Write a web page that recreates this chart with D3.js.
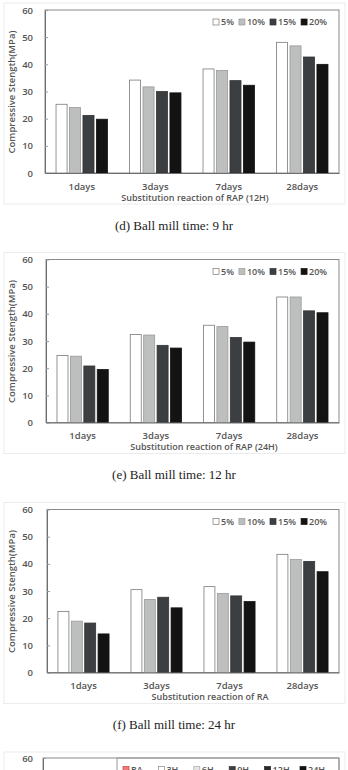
<!DOCTYPE html>
<html>
<head>
<meta charset="utf-8">
<script src="https://cdn.jsdelivr.net/npm/d3@7"></script>
<style>
  body { margin: 0; background: #fff; }
  svg { display: block; }
</style>
</head>
<body>
<svg id="chart"></svg>
<script>
// categories and series
var days = ["1days", "3days", "7days", "28days"];
var ratios = ["5%", "10%", "15%", "20%"];
var yTicks = [0, 10, 20, 30, 40, 50, 60];

// one row per day, columns = 5%, 10%, 15%, 20%
var rap12H = [
  [25.3, 24.1, 21.2, 19.8],
  [34.2, 31.7, 30.0, 29.5],
  [38.3, 37.7, 34.0, 32.3],
  [48.1, 46.8, 42.7, 40.0]
];
var rap24H = [
  [24.7, 24.4, 20.8, 19.5],
  [32.4, 32.2, 28.4, 27.4],
  [35.8, 35.3, 31.3, 29.6],
  [46.2, 46.2, 41.1, 40.4]
];
var raOnly = [
  [22.5, 18.9, 18.2, 14.2],
  [30.5, 26.9, 27.7, 23.8],
  [31.6, 29.1, 28.2, 26.1],
  [43.5, 41.6, 40.9, 37.1]
];

var xTitles = ["Substitution reaction of RAP (12H)", "Substitution reaction of RAP (24H)", "Substitution reaction of RA"];
var captions = ["(d) Ball mill time: 9 hr", "(e) Ball mill time: 12 hr", "(f) Ball mill time: 24 hr"];
var yTitle = "Compressive Stength(MPa)";

// legend of the next (cut off) figure
var millTimes = ["RA", "3H", "6H", "9H", "12H", "24H"];

var screen = { width: 348, height: 770 };

var barColors = ["#ffffff", "#bcbfbe", "#3c3f41", "#131313"];
var barStrokes = ["#7a7a7a", "#9a9a9a", "#333333", "#111111"];
var millColors = ["#f07a7a", "#ffffff", "#e4e4e4", "#3c3f41", "#2a2a2a", "#111111"];
var millStrokes = ["#d04040", "#888888", "#aaaaaa", "#333333", "#222222", "#111111"];

var textGray = "#555555";
var sans = "'Open Sans', 'Noto Sans', sans-serif";

var svg = d3.select("#chart")
  .attr("width", screen.width)
  .attr("height", screen.height);

var drawPanel = function(values, xTitle, caption, layout)
{
  var top = layout.top;
  var left = layout.left;
  var right = 339;
  var bottom = top + 163;

  var g = svg.append("g");

  // faint picture frame
  g.append("rect")
    .attr("x", 4).attr("y", top - 7)
    .attr("width", 341).attr("height", 201)
    .attr("fill", "none")
    .attr("stroke", "#ececec");

  var yScale = d3.scaleLinear().domain([0, 60]).range([bottom, top]);

  var x0 = d3.scaleBand()
    .domain(days)
    .range([left, right])
    .paddingInner(0.3)
    .paddingOuter(0.15);

  var x1 = d3.scaleBand()
    .domain(ratios)
    .range([0, x0.bandwidth()])
    .paddingInner(0.18);

  // plot box
  g.append("rect")
    .attr("x", left).attr("y", top)
    .attr("width", right - left).attr("height", bottom - top)
    .attr("fill", "none")
    .attr("stroke", "#8a8a8a")
    .attr("stroke-width", 1);

  // bars
  var groups = g.selectAll("g.day")
    .data(values)
    .enter()
    .append("g")
    .attr("class", "day")
    .attr("transform", function(d, i) { return "translate(" + x0(days[i]) + ",0)"; });

  groups.selectAll("rect")
    .data(function(d) { return d; })
    .enter()
    .append("rect")
    .attr("x", function(d, j) { return x1(ratios[j]); })
    .attr("y", function(d) { return yScale(d); })
    .attr("width", x1.bandwidth())
    .attr("height", function(d) { return bottom - yScale(d); })
    .attr("fill", function(d, j) { return barColors[j]; })
    .attr("stroke", function(d, j) { return barStrokes[j]; })
    .attr("stroke-width", 0.8);

  // y axis
  var yAxis = d3.axisLeft(yScale)
    .tickValues(yTicks)
    .tickSizeInner(-3)
    .tickSizeOuter(0)
    .tickPadding(left - 33);

  var yAxisGraphic = g.append("g")
    .attr("transform", "translate(" + left + ",0)")
    .call(yAxis);
  yAxisGraphic.select(".domain").attr("stroke", "#6e6e6e");
  yAxisGraphic.selectAll(".tick line").attr("stroke", "#9a9a9a");
  yAxisGraphic.selectAll("text")
    .attr("fill", textGray)
    .style("font-family", sans)
    .style("font-size", "9.5px")
    .style("font-weight", 600);

  // x axis
  var xAxis = d3.axisBottom(x0)
    .tickSize(0)
    .tickPadding(10);

  var xAxisGraphic = g.append("g")
    .attr("transform", "translate(0," + bottom + ")")
    .call(xAxis);
  xAxisGraphic.select(".domain").attr("stroke", "#6e6e6e");
  xAxisGraphic.selectAll("text")
    .attr("fill", textGray)
    .style("font-family", sans)
    .style("font-size", "9.5px")
    .style("font-weight", 600);

  // x title
  g.append("text")
    .attr("x", layout.titleX)
    .attr("y", top + 187.5)
    .attr("dy", "0.35em")
    .attr("text-anchor", "middle")
    .attr("fill", textGray)
    .style("font-family", sans)
    .style("font-size", "9px")
    .style("font-weight", 600)
    .text(xTitle);

  // y title
  g.append("text")
    .attr("transform", "translate(12," + (top + 82) + ") rotate(-90)")
    .attr("dy", "0.35em")
    .attr("text-anchor", "middle")
    .attr("fill", textGray)
    .style("font-family", sans)
    .style("font-size", "9.5px")
    .style("font-weight", 600)
    .text(yTitle);

  // legend
  var lx = 213;
  var ly = top + 12;
  ratios.forEach(function(r, j)
  {
    g.append("rect")
      .attr("x", lx).attr("y", ly - 3)
      .attr("width", 6).attr("height", 6)
      .attr("fill", barColors[j])
      .attr("stroke", barStrokes[j])
      .attr("stroke-width", 0.7);
    var t = g.append("text")
      .attr("x", lx + 8)
      .attr("y", ly)
      .attr("dy", "0.35em")
      .attr("fill", textGray)
      .style("font-family", sans)
      .style("font-size", "9px")
      .style("font-weight", 600)
      .text(r);
    lx = lx + 8 + t.node().getComputedTextLength() + 5;
  });

  // caption
  g.append("text")
    .attr("x", 174)
    .attr("y", top + 215)
    .attr("dy", "0.35em")
    .attr("text-anchor", "middle")
    .attr("fill", "#222")
    .style("font-family", "'Liberation Serif', 'DejaVu Serif', serif")
    .style("font-size", "13px")
    .text(caption);
};

drawPanel(rap12H, xTitles[0], captions[0], { top: 10, left: 45, titleX: 195 });
drawPanel(rap24H, xTitles[1], captions[1], { top: 259.5, left: 46, titleX: 204 });
drawPanel(raOnly, xTitles[2], captions[2], { top: 509.5, left: 47, titleX: 210 });

// top of the next figure, cut off by the page edge
var gTop = 758;
var gNext = svg.append("g");

gNext.append("rect")
  .attr("x", 4).attr("y", gTop - 6)
  .attr("width", 341).attr("height", 60)
  .attr("fill", "none")
  .attr("stroke", "#ececec");

gNext.append("rect")
  .attr("x", 43).attr("y", gTop)
  .attr("width", 296).attr("height", 60)
  .attr("fill", "none")
  .attr("stroke", "#8a8a8a");

var yNext = d3.scaleLinear().domain([0, 60]).range([gTop + 163, gTop]);
// only the ticks still inside the page are drawn
var visibleTicks = yTicks.filter(function(v) { return yNext(v) < screen.height - 4; });
var yNextAxis = gNext.append("g")
  .attr("transform", "translate(43,0)")
  .call(d3.axisLeft(yNext).tickValues(visibleTicks).tickSizeInner(-3).tickSizeOuter(0).tickPadding(10));
yNextAxis.select(".domain").attr("stroke", "#6e6e6e");
yNextAxis.selectAll(".tick line").attr("stroke", "#9a9a9a");
yNextAxis.selectAll("text")
  .attr("fill", textGray)
  .style("font-family", sans)
  .style("font-size", "9.5px")
  .style("font-weight", 600);

// legend box of the next figure
gNext.append("rect")
  .attr("x", 117).attr("y", gTop)
  .attr("width", 222).attr("height", 40)
  .attr("fill", "none")
  .attr("stroke", "#9a9a9a");

var millX = d3.scalePoint().domain(millTimes).range([123, 300]);
var millItems = gNext.selectAll("g.mill")
  .data(millTimes)
  .enter()
  .append("g")
  .attr("class", "mill")
  .attr("transform", function(d) { return "translate(" + millX(d) + "," + (gTop + 8.5) + ")"; });

millItems.append("rect")
  .attr("width", 6).attr("height", 6)
  .attr("fill", function(d, i) { return millColors[i]; })
  .attr("stroke", function(d, i) { return millStrokes[i]; })
  .attr("stroke-width", 0.7);

millItems.append("text")
  .attr("x", 8)
  .attr("y", 6.5)
  .attr("fill", textGray)
  .style("font-family", sans)
  .style("font-size", "9px")
  .style("font-weight", 600)
  .text(function(d) { return d; });
</script>
</body>
</html>
